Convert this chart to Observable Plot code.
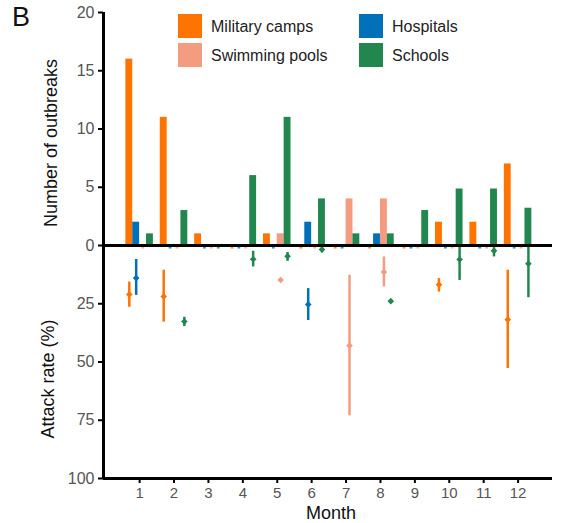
<!DOCTYPE html>
<html>
<head>
<meta charset="utf-8">
<script src="https://cdn.jsdelivr.net/npm/d3@7"></script>
<script src="https://cdn.jsdelivr.net/npm/@observablehq/plot@0.6"></script>
<style>
  html, body { margin: 0; padding: 0; background: white; }
  #chart { position: relative; width: 584px; height: 523px; overflow: hidden; }
  #chart svg { position: absolute; left: 0; top: 0; }
</style>
</head>
<body>
<div id="chart"></div>
<script>
// ---- data ----
const months = [1, 2, 3, 4, 5, 6, 7, 8, 9, 10, 11, 12];
const categories = ["Military camps", "Hospitals", "Swimming pools", "Schools"];
const colors = ["#ff7300", "#0071b8", "#f39c80", "#22874f"];

// Number of outbreaks per month
const militaryCounts = [16, 11, 1, 0, 1, 0, 0, 0, 0, 2, 2, 7];
const hospitalCounts = [2, 0, 0, 0, 0, 2, 0, 1, 0, 0, 0, 0];
const poolCounts     = [0, 0, 0, 0, 1, 0, 4, 4, 0, 0, 0, 0];
const schoolCounts   = [1, 3, 0, 6, 11, 4, 1, 1, 3, 4.85, 4.85, 3.2];

// Attack rate (%) with interval
const militaryRate = [21, 21.9, null, null, null, null, null, null, null, 16.8, null, 31.8];
const militaryLow  = [15.7, 10.6, null, null, null, null, null, null, null, 14.2, null, 10.6];
const militaryHigh = [26.5, 32.9, null, null, null, null, null, null, null, 20, null, 52.8];
const hospitalRate = [14, null, null, null, null, 25.3, null, null, null, null, null, null];
const hospitalLow  = [6, null, null, null, null, 18.5, null, null, null, null, null, null];
const hospitalHigh = [21.4, null, null, null, null, 32.2, null, null, null, null, null, null];
const poolRate = [null, null, null, null, 14.8, null, 43, 11.4, null, null, null, null];
const poolLow  = [null, null, null, null, 14.8, null, 12.8, 4.9, null, null, null, null];
const poolHigh = [null, null, null, null, 14.8, null, 73.1, 17.8, null, null, null, null];
const schoolRate = [null, 32.6, null, 5.9, 4.6, 1.7, null, 23.9, null, 6, 2.3, 7.8];
const schoolLow  = [null, 30.8, null, 2.5, 3, 0.3, null, 23.9, null, 0.3, 0.9, 0.3];
const schoolHigh = [null, 34.8, null, 9.2, 6.8, 3.2, null, 23.9, null, 15, 4.9, 22.4];

const countTicks = [0, 5, 10, 15, 20];
const rateTicks = [25, 50, 75, 100];

// ---- tables built from the arrays ----
const countsByCat = [militaryCounts, hospitalCounts, poolCounts, schoolCounts];
const rateByCat = [
  [militaryRate, militaryLow, militaryHigh],
  [hospitalRate, hospitalLow, hospitalHigh],
  [poolRate, poolLow, poolHigh],
  [schoolRate, schoolLow, schoolHigh]
];
const barW = 0.2;
const bars = [];
const rates = [];
categories.forEach((cat, ci) => {
  months.forEach((m, mi) => {
    const x1 = m - 2 * barW + ci * barW;
    bars.push({category: cat, month: m, count: countsByCat[ci][mi], x1, x2: x1 + barW, xc: x1 + barW / 2});
    const [r, lo, hi] = rateByCat[ci];
    if (r[mi] != null) rates.push({category: cat, month: m, rate: r[mi], lo: lo[mi], hi: hi[mi], xc: x1 + barW / 2});
  });
});

const xDomain = [-0.05, 13];
const font = "'Liberation Sans', Arial, sans-serif";
const common = {
  width: 584, marginLeft: 103, marginRight: 32,
  x: {domain: xDomain, axis: null},
  color: {domain: categories, range: colors},
  style: {background: "transparent", overflow: "visible", fontFamily: font}
};

// ---- top panel: number of outbreaks ----
const topPlot = Plot.plot({
  ...common,
  height: 246, marginTop: 12, marginBottom: 1,
  y: {domain: [0, 20], axis: null},
  marks: [
    Plot.rect(bars.filter(d => d.count > 0), {x1: "x1", x2: "x2", y1: 0, y2: "count", fill: "category"}),
    Plot.axisY({ticks: countTicks, tickSize: 5, tickPadding: 4, fontSize: 16, fill: "#555", stroke: "black", strokeWidth: 2, label: null}),
    Plot.ruleX([xDomain[0]], {y1: 0, y2: 20, strokeWidth: 3})
  ]
});

// ---- bottom panel: attack rate ----
const bottomPlot = Plot.plot({
  ...common,
  height: 523, marginTop: 245, marginBottom: 45,
  y: {domain: [0, 100], reverse: true, axis: null},
  marks: [
    Plot.ruleY(bars.filter(d => d.count === 0), {y: 1, x1: d => d.xc - 0.04, x2: d => d.xc + 0.04, stroke: "category", strokeWidth: 1.2}),
    Plot.ruleX(rates, {x: "xc", y1: "lo", y2: "hi", stroke: "category", strokeWidth: 2.5}),
    Plot.dot(rates, {x: "xc", y: "rate", fill: "category", symbol: "diamond2", r: 3}),
    Plot.axisY({ticks: rateTicks, tickSize: 5, tickPadding: 4, fontSize: 16, fill: "#555", stroke: "black", strokeWidth: 2, label: null}),
    Plot.axisX({ticks: months, tickSize: 5, fontSize: 15, fill: "#555", stroke: "black", strokeWidth: 2, label: null}),
    Plot.ruleY([0], {strokeWidth: 3}),
    Plot.ruleY([100], {strokeWidth: 3}),
    Plot.ruleX([xDomain[0]], {y1: 0, y2: 100, strokeWidth: 3})
  ]
});

const chart = document.getElementById("chart");
chart.appendChild(topPlot);
chart.appendChild(bottomPlot);

// ---- labels and legend ----
const svg = d3.select(bottomPlot);
const g = svg.append("g").attr("font-family", font).attr("text-anchor", "start");
g.append("text").attr("x", 12).attr("y", 26).attr("font-size", 27).attr("fill", "#111").text("B");
g.append("text").attr("transform", "translate(57,143) rotate(-90)").attr("text-anchor", "middle")
  .attr("font-size", 18).attr("fill", "#111").text("Number of outbreaks");
g.append("text").attr("transform", "translate(54,379) rotate(-90)").attr("text-anchor", "middle")
  .attr("font-size", 18).attr("fill", "#111").text("Attack rate (%)");
g.append("text").attr("x", 331).attr("y", 519).attr("text-anchor", "middle")
  .attr("font-size", 18).attr("fill", "#111").text("Month");

const legendOrder = ["Military camps", "Swimming pools", "Hospitals", "Schools"];
const legend = g.append("g").selectAll("g").data(legendOrder).join("g")
  .attr("transform", (d, i) => `translate(${i < 2 ? 178 : 359},${i % 2 === 0 ? 14 : 43})`);
legend.append("rect").attr("width", 24).attr("height", 24)
  .attr("fill", d => colors[categories.indexOf(d)]);
legend.append("text").attr("x", 33).attr("y", 17.5).attr("text-anchor", "start")
  .attr("font-size", 16).attr("fill", "#222").text(d => d);
</script>
</body>
</html>
